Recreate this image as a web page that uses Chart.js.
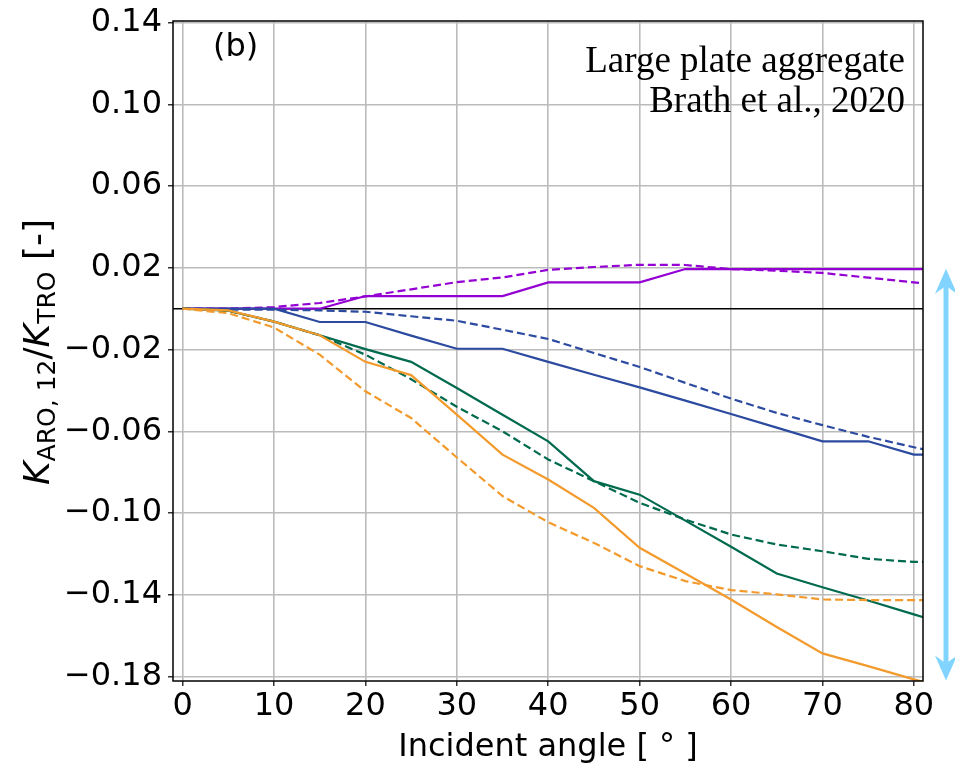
<!DOCTYPE html>
<html lang="en">
  <head>
    <meta charset="UTF-8" />
    <script src="https://cdn.jsdelivr.net/npm/chart.js@4.4.0/dist/chart.umd.min.js"></script>
    <title>Large plate aggregate</title>
    <style>
      html, body { margin: 0; padding: 0; background: #fff; }
    </style>
  </head>
  <body>
    <canvas id="chart" width="955" height="770"></canvas>
    <script>
      // incident angles (deg); the 85 point only shows as the clipped stub past 80
      const angles = [0, 5, 10, 15, 20, 25, 30, 35, 40, 45, 50, 55, 60, 65, 70, 75, 80, 85];

      const purpleSolid = [0, 0, 0, 0, 0.0062, 0.0062, 0.0062, 0.0062, 0.0129, 0.0129, 0.0129, 0.0194, 0.0194, 0.0194, 0.0194, 0.0194, 0.0194, 0.0194];
      const purpleDashed = [0, 0, 0.0008, 0.0028, 0.006, 0.0095, 0.013, 0.0153, 0.019, 0.0204, 0.0215, 0.0214, 0.0194, 0.0186, 0.0175, 0.0152, 0.0129, 0.0106];
      const blueSolid = [0, 0, 0, -0.0065, -0.0065, -0.0132, -0.0196, -0.0196, -0.026, -0.0323, -0.0385, -0.045, -0.0515, -0.0582, -0.0649, -0.0649, -0.0714, -0.0714];
      const blueDashed = [0, -0.0005, -0.0005, -0.0008, -0.0015, -0.0037, -0.0059, -0.0103, -0.0148, -0.0217, -0.0285, -0.0363, -0.044, -0.051, -0.057, -0.0627, -0.0678, -0.0725];
      const greenSolid = [0, -0.001, -0.0063, -0.013, -0.0198, -0.026, -0.0388, -0.0519, -0.0649, -0.0844, -0.091, -0.1037, -0.1165, -0.1296, -0.1363, -0.1428, -0.1496, -0.1562];
      const greenDashed = [0, -0.001, -0.0063, -0.013, -0.0225, -0.0345, -0.048, -0.06, -0.0738, -0.0844, -0.095, -0.1032, -0.1105, -0.1154, -0.1187, -0.1224, -0.1239, -0.1239];
      const orangeSolid = [0, -0.0008, -0.0063, -0.013, -0.026, -0.0325, -0.0518, -0.0714, -0.0836, -0.0975, -0.117, -0.1296, -0.1423, -0.1558, -0.1687, -0.1749, -0.1814, -0.1876];
      const orangeDashed = [0, -0.0022, -0.0092, -0.0225, -0.0404, -0.0535, -0.0728, -0.0917, -0.1045, -0.1146, -0.126, -0.1333, -0.1377, -0.1398, -0.1423, -0.1426, -0.1426, -0.1426];

      const xTicks = [0, 10, 20, 30, 40, 50, 60, 70, 80];
      const yTicks = [-0.18, -0.14, -0.1, -0.06, -0.02, 0.02, 0.06, 0.1, 0.14];
      const xRange = [-1.05, 81];
      const yRange = [-0.1822, 0.1408];
      const arrowSpan = [0.0195, -0.182];

      const pts = (vals) => vals.map((v, i) => ({ x: angles[i], y: v }));
      const dash = [8, 4];

      const colors = {
        purple: "#9400d3",
        blue: "#2b4aa0",
        green: "#006a4e",
        orange: "#f39a2c",
      };

      const sans = "'DejaVu Sans'";

      function line(vals, color, dashed) {
        return {
          data: pts(vals),
          borderColor: color,
          borderWidth: 2.2,
          borderDash: dashed ? dash : [],
          pointRadius: 0,
          tension: 0,
          fill: false,
        };
      }

      const extras = {
        id: "extras",
        afterDraw(chart) {
          const { ctx, chartArea: a, scales } = chart;
          ctx.save();
          // frame
          ctx.strokeStyle = "#000";
          ctx.lineWidth = 1.5;
          ctx.strokeRect(a.left, a.top, a.right - a.left, a.bottom - a.top);

          // panel label
          ctx.fillStyle = "#000";
          ctx.font = "32px " + sans;
          ctx.textAlign = "left";
          ctx.textBaseline = "alphabetic";
          ctx.fillText("(b)", a.left + 40, 56);

          // annotation text
          ctx.font = "37px 'Liberation Serif'";
          ctx.textAlign = "right";
          ctx.fillText("Large plate aggregate", a.right - 18, 72);
          ctx.fillText("Brath et al., 2020", a.right - 18, 112);

          // y axis title with subscripts
          const big = 36, small = 25, drop = 6;
          const parts = [
            { t: "K", f: "oblique " + big + "px " + sans, dy: 0 },
            { t: "ARO, 12", f: small + "px " + sans, dy: drop },
            { t: "/", f: big + "px " + sans, dy: 0 },
            { t: "K", f: "oblique " + big + "px " + sans, dy: 0 },
            { t: "TRO", f: small + "px " + sans, dy: drop },
            { t: " [-]", f: big + "px " + sans, dy: 0 },
          ];
          let total = 0;
          parts.forEach((p) => { ctx.font = p.f; p.w = ctx.measureText(p.t).width; total += p.w; });
          ctx.translate(49, 352);
          ctx.rotate(-Math.PI / 2);
          ctx.textAlign = "left";
          let x = -total / 2;
          parts.forEach((p) => { ctx.font = p.f; ctx.fillText(p.t, x, p.dy); x += p.w; });
          ctx.setTransform(1, 0, 0, 1, 0, 0);

          // double-headed arrow to the right of the axes
          const ax = a.right + 23;
          const y1 = scales.y.getPixelForValue(arrowSpan[0]);
          const y2 = scales.y.getPixelForValue(arrowSpan[1]);
          const hl = 25, hw = 11, notch = 8;
          ctx.fillStyle = "#80d4ff";
          ctx.strokeStyle = "#80d4ff";
          ctx.lineWidth = 5;
          ctx.beginPath();
          ctx.moveTo(ax, y1 + hl - notch);
          ctx.lineTo(ax, y2 - hl + notch);
          ctx.stroke();
          ctx.beginPath();
          ctx.moveTo(ax, y1);
          ctx.lineTo(ax + hw, y1 + hl);
          ctx.lineTo(ax, y1 + hl - notch);
          ctx.lineTo(ax - hw, y1 + hl);
          ctx.closePath();
          ctx.fill();
          ctx.beginPath();
          ctx.moveTo(ax, y2);
          ctx.lineTo(ax + hw, y2 - hl);
          ctx.lineTo(ax, y2 - hl + notch);
          ctx.lineTo(ax - hw, y2 - hl);
          ctx.closePath();
          ctx.fill();
          ctx.restore();
        },
      };

      const ctx = document.getElementById("chart").getContext("2d");
      const chart = new Chart(ctx, {
        type: "line",
        data: {
          datasets: [
            line(orangeSolid, colors.orange, false),
            line(orangeDashed, colors.orange, true),
            line(greenSolid, colors.green, false),
            line(greenDashed, colors.green, true),
            line(blueSolid, colors.blue, false),
            line(blueDashed, colors.blue, true),
            line(purpleSolid, colors.purple, false),
            line(purpleDashed, colors.purple, true),
            {
              data: [{ x: xRange[0], y: 0 }, { x: xRange[1], y: 0 }],
              borderColor: "#000",
              borderWidth: 1.5,
              pointRadius: 0,
            },
          ],
        },
        options: {
          responsive: false,
          animation: false,
          layout: { padding: { left: 0, top: 21, right: 32, bottom: 0 } },
          plugins: { legend: { display: false }, tooltip: { enabled: false } },
          scales: {
            x: {
              type: "linear",
              min: xRange[0],
              max: xRange[1],
              afterBuildTicks: (s) => { s.ticks = xTicks.map((v) => ({ value: v })); },
              afterFit: (s) => { s.height = 89; s.paddingLeft = 0; s.paddingRight = 0; },
              border: { display: false },
              grid: { color: "#bbbbbb", lineWidth: 1.6, tickColor: "#000", tickLength: 5, tickWidth: 1.2 },
              ticks: {
                color: "#000",
                font: { family: sans, size: 32 },
                padding: 1,
                maxRotation: 0,
                callback: (v) => String(v),
              },
              title: {
                display: true,
                text: "Incident angle [ ° ]",
                color: "#000",
                font: { family: sans, size: 32 },
                padding: { top: 0, bottom: 3 },
              },
            },
            y: {
              type: "linear",
              min: yRange[0],
              max: yRange[1],
              afterBuildTicks: (s) => { s.ticks = yTicks.map((v) => ({ value: v })); },
              afterFit: (s) => { s.width = 173; s.paddingTop = 0; s.paddingBottom = 0; },
              border: { display: false },
              grid: { color: "#bbbbbb", lineWidth: 1.6, tickColor: "#000", tickLength: 5, tickWidth: 1.2 },
              ticks: {
                color: "#000",
                font: { family: sans, size: 32 },
                padding: 6,
                callback: (v) => v.toFixed(2).replace("-", "\u2212"),
              },
            },
          },
        },
        plugins: [extras],
      });
    </script>
  </body>
</html>
